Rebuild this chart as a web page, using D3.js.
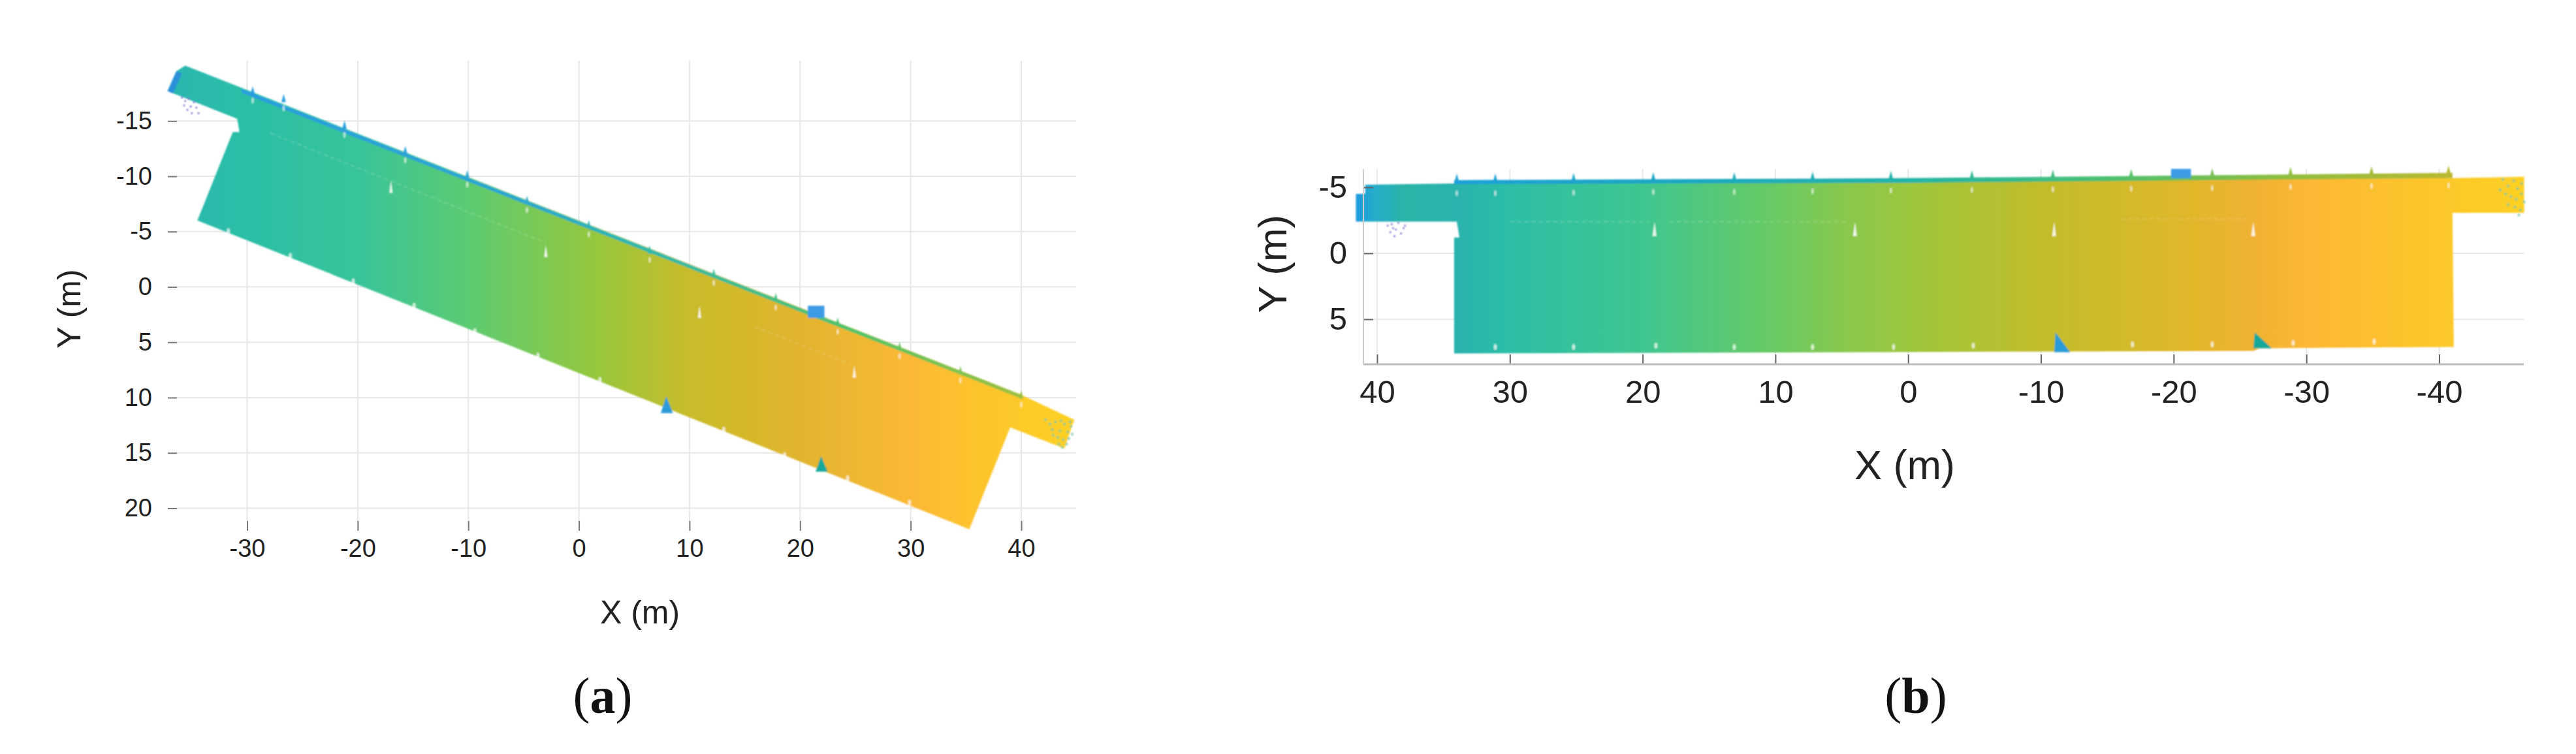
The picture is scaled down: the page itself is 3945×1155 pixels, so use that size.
<!DOCTYPE html>
<meta charset="utf-8">
<head>
<title>Point cloud top views</title>
<script src="https://d3js.org/d3.v7.min.js"></script>
<style>
    html, body { margin: 0; background: #fff; }
    text { font-family: "Liberation Sans", Arial, sans-serif; fill: #222; }
    .caption { font-family: "Liberation Serif", serif; font-size: 78px; fill: #111; }
    .caption tspan.b { font-weight: bold; }
</style>
</head>
<body>
<div id="chart"></div>
<script>
    // ---- data, all in metres ----
    var xTicksA = [-30, -20, -10, 0, 10, 20, 30, 40];
    var yTicksA = [-15, -10, -5, 0, 5, 10, 15, 20];
    var xTicksB = [40, 30, 20, 10, 0, -10, -20, -30, -40];
    var yTicksB = [-5, 0, 5];

    // panel a outline
    var outlineA = [[-35.6,-20],[39.9,9.7],[44.8,12],[43.9,14.6],[39,12.7],[35.3,21.9],[-34.5,-6],[-31.3,-14],[-30.7,-14],[-30.9,-15.2],[-37.2,-17.7],[-36.4,-19.5]];
    var blueEndA = [[-36.4,-19.5],[-35.9,-19.3],[-36.7,-17.5],[-37.2,-17.7]];
    var colourXA = [-37, -30, -20, -10, -3, 1, 10, 20, 30, 35, 44];
    var colourA = ["#29b6b0", "#2abfa6", "#38c49a", "#5ccb72", "#7fc952", "#93c83f", "#c9bc2a", "#e2b42e", "#fbb936", "#fdc22e", "#fdd024"];
    var fringeA = [[-30.5,-17.9],[39.9,9.7],[39.9,10.05],[-30.5,-17.55]];
    var fringeXA = [-30, -5, 5, 25, 40];
    var fringeColourA = ["#2b9de0", "#2ba8d0", "#2cb8b0", "#52c46a", "#9cc040"];
    var spikeXA = [-29.5,-26.7,-21.2,-15.7,-10.1,-4.7,0.9,6.4,12.2,17.8,23.4,29,34.5,40];
    var spikeYA = [-17.6,-16.9,-14.5,-12.2,-10,-7.7,-5.5,-3.2,-1.1,1.1,3.3,5.5,7.7,9.9];
    var lowXA = [-31.7,-26.1,-20.4,-14.9,-9.4,-3.7,1.9,13.1,18.6,24.3,29.9];
    var lowYA = [-5.05,-2.8,-0.5,1.7,4,6.2,8.4,12.9,15.2,17.3,19.5];
    var wedgeXA = [-17, -3, 10.9, 24.9];
    var wedgeYA = [-9.6, -3.8, 1.7, 7.1];
    var triangleA = [
        {pts: [[7.9,9.9],[7.4,11.4],[8.5,11.4]], colour: "#2a9bd8"},
        {pts: [[21.9,15.3],[21.4,16.7],[22.5,16.7]], colour: "#17a89a"}
    ];
    var blobA = {x0: 20.7, x1: 22.2, y0: 1.7, y1: 2.8};
    var seamA = [[[-27.9,-13.9],[-3,-4]], [[15.9,3.6],[24.6,7]]];
    var purpleA = [[-35.9,-17.1],[-35.6,-16.8],[-35.3,-17],[-35.1,-16.3],[-34.8,-16.7],[-35.4,-16],[-34.6,-16.2],[-35,-15.7],[-34.4,-15.7],[-35.7,-16.4]];
    var noiseA = [[42.2,12],[42.8,12.9],[43.1,12.2],[43.5,13],[43.9,12.4],[44.2,13.1],[44.5,12.6],[42.6,12.4],[43.3,13.6],[43.8,13.8],[44.3,13.7],[44.1,14.2],[43.7,14.5],[43.4,14.2],[44.6,13.3],[42.9,13.4],[44.4,12.2],[43.6,12.1]];

    // panel b outline
    var outlineB = [[41.6,-4.5],[40.9,-4.5],[40.9,-5.2],[34.2,-5.3],[-41,-5.7],[-46.4,-5.8],[-46.4,-3.07],[-41,-3.07],[-41.1,7.1],[-26.5,7.2],[-26,7.4],[-11,7.45],[34.2,7.6],[34.2,-1.2],[33.8,-1.2],[34,-2.4],[41.6,-2.4]];
    var colourXB = [41.6, 40.2, 38, 34, 30, 20, 10, 4, 0, -10, -20, -26, -30, -40, -46];
    var colourB = ["#1e9ce0", "#25acc8", "#2ab4a8", "#2ab3ae", "#2dbea6", "#3fc690", "#69ca64", "#8dc84a", "#9cc63e", "#c2bd2a", "#ddb82a", "#f0b232", "#fcb835", "#fdc72a", "#fdd024"];
    var fringeB = [[34.2,-5.55],[0,-5.7],[-41,-6.1],[-41,-5.7],[0,-5.35],[34.2,-5.25]];
    var fringeXB = [34, 15, 0, -15, -28, -41];
    var fringeColourB = ["#1fa0d8", "#1fa8c0", "#22b5a8", "#4cc070", "#8ebe40", "#b8b830"];
    var spikeXB = [34,31.1,25.2,19.2,13.1,7.2,1.3,-4.8,-10.9,-16.8,-22.9,-28.8,-34.9,-40.7];
    var spikeYB = [-5.5,-5.5,-5.55,-5.6,-5.6,-5.65,-5.7,-5.75,-5.8,-5.85,-5.9,-6,-6.05,-6.1];
    var lowXB = [31.1,25.2,19,13.1,7.2,1.1,-4.9,-16.9,-22.9,-29,-35.1];
    var lowYB = [7.1,7.1,7,7.1,7.1,7.1,7,6.9,6.9,6.8,6.7];
    var wedgeXB = [19.1, 4, -11, -26];
    var wedgeYB = [-2.4, -2.4, -2.4, -2.4];
    var triangleB = [
        {pts: [[-11.1,6],[-11,7.5],[-12.2,7.5]], colour: "#2a9bd8"},
        {pts: [[-26.1,6],[-26,7.2],[-27.4,7.2]], colour: "#17a89a"}
    ];
    var blobB = {x0: -21.3, x1: -19.8, y0: -6.4, y1: -5.7};
    var seamB = [[[30,-2.4],[19.5,-2.4]], [[18,-2.4],[4.5,-2.4]], [[-16,-2.6],[-25.5,-2.6]]];
    var purpleB = [[39.2,-2.1],[39,-1.6],[38.9,-2.2],[38.6,-1.8],[38.4,-2.3],[38.2,-1.5],[38,-1.9],[38.7,-1.3],[37.9,-2.1],[38.8,-1.9]];
    var noiseB = [[-44.8,-5.6],[-45.2,-5.1],[-45.6,-5.5],[-45.9,-4.9],[-46.2,-5.3],[-45,-4.5],[-45.4,-4.3],[-45.8,-4.1],[-46.2,-4.5],[-46.4,-3.9],[-45.2,-3.7],[-45.7,-3.5],[-46.1,-3.3],[-46,-2.9],[-44.6,-4.8]];

    // ---- svg ----
    var svg = d3.select("#chart").append("svg")
                .attr("width", 3945)
                .attr("height", 1155);
    var defs = svg.append("defs");
    defs.append("filter").attr("id", "soft").append("feGaussianBlur").attr("stdDeviation", 0.8);

    var xA = d3.scaleLinear().domain([-30, 40]).range([378.5, 1564]);
    var yA = d3.scaleLinear().domain([-15, 20]).range([185.3, 778.5]);
    var xB = d3.scaleLinear().domain([40, -40]).range([2109, 3735.5]);
    var yB = d3.scaleLinear().domain([-5, 5]).range([287, 489]);

    function gradient(id, xs, colours, x) {
        var x0 = x(xs[0]), x1 = x(xs[xs.length - 1]);
        var g = defs.append("linearGradient").attr("id", id)
                    .attr("gradientUnits", "userSpaceOnUse")
                    .attr("x1", x0).attr("x2", x1).attr("y1", 0).attr("y2", 0);
        xs.forEach(function (v, i) {
            g.append("stop").attr("offset", (x(v) - x0) / (x1 - x0)).attr("stop-color", colours[i]);
        });
    }
    gradient("fillA", colourXA, colourA, xA);
    gradient("fringeA", fringeXA, fringeColourA, xA);
    gradient("fillB", colourXB, colourB, xB);
    gradient("fringeB", fringeXB, fringeColourB, xB);

    function drawPanel(o) {
        var x = o.x, y = o.y;
        var line = d3.line().x(function (d) { return x(d[0]); }).y(function (d) { return y(d[1]); });
        var closed = function (pts) { return line(pts) + "Z"; };

        var grid = svg.append("g").attr("stroke", "#e8e8e8").attr("stroke-width", 2);
        grid.selectAll(".gx").data(o.xTicks).enter().append("line")
            .attr("x1", x).attr("x2", x).attr("y1", o.top).attr("y2", o.bottom);
        grid.selectAll(".gy").data(o.yTicks).enter().append("line")
            .attr("y1", y).attr("y2", y).attr("x1", o.left).attr("x2", o.right);

        var marks = svg.append("g").attr("filter", "url(#soft)");

        // point cloud body
        marks.append("path").attr("d", closed(o.outline)).attr("fill", "url(#" + o.fill + ")");
        if (o.blueEnd) marks.append("path").attr("d", closed(o.blueEnd)).attr("fill", "#2a90d8");
        marks.append("path").attr("d", closed(o.fringe)).attr("fill", "url(#" + o.fringeFill + ")");

        // roof spikes along the top edge
        marks.selectAll(".spike").data(o.spikeX).enter().append("path")
            .attr("d", function (d, i) {
                var b = o.spikeY[i];
                return closed([[d - 0.2, b + 0.2], [d, b - 0.55], [d + 0.2, b + 0.2]]);
            })
            .attr("fill", "url(#" + o.fringeFill + ")");

        // small white gaps
        marks.selectAll(".gapTop").data(o.spikeX).enter().append("ellipse")
            .attr("cx", x)
            .attr("cy", function (d, i) { return y(o.spikeY[i] + o.gapOffset); })
            .attr("rx", 1.8).attr("ry", 4.5)
            .attr("fill", "#fff").attr("opacity", 0.6);
        marks.selectAll(".gapLow").data(o.lowX).enter().append("ellipse")
            .attr("cx", x)
            .attr("cy", function (d, i) { return y(o.lowY[i]); })
            .attr("rx", 2.4).attr("ry", 4.5)
            .attr("fill", "#fff").attr("opacity", 0.7);

        // larger wedges
        marks.selectAll(".wedge").data(o.wedgeX).enter().append("path")
            .attr("d", function (d, i) {
                var b = o.wedgeY[i];
                return closed([[d, b], [d + 0.16, b + 1.1], [d - 0.14, b + 1.1]]);
            })
            .attr("fill", "#fff").attr("opacity", 0.85);

        // faint seams
        marks.selectAll(".seam").data(o.seams).enter().append("path")
            .attr("d", line).attr("fill", "none")
            .attr("stroke", "#fff").attr("stroke-opacity", 0.22).attr("stroke-width", 1.5)
            .attr("stroke-dasharray", "7,4");

        marks.selectAll(".tri").data(o.triangles).enter().append("path")
            .attr("d", function (d) { return closed(d.pts); })
            .attr("fill", function (d) { return d.colour; });

        marks.append("rect")
            .attr("x", Math.min(x(o.blob.x0), x(o.blob.x1)))
            .attr("width", Math.abs(x(o.blob.x1) - x(o.blob.x0)))
            .attr("y", y(o.blob.y0))
            .attr("height", y(o.blob.y1) - y(o.blob.y0))
            .attr("fill", "#3d9be6");

        marks.selectAll(".purple").data(o.purple).enter().append("circle")
            .attr("cx", function (d) { return x(d[0]); })
            .attr("cy", function (d) { return y(d[1]); })
            .attr("r", 1.4).attr("fill", "#6a5fd0");
        marks.selectAll(".noise").data(o.noise).enter().append("circle")
            .attr("cx", function (d) { return x(d[0]); })
            .attr("cy", function (d) { return y(d[1]); })
            .attr("r", 2.2).attr("fill", "#6cc4a8").attr("opacity", 0.7);
    }

    drawPanel({
        x: xA, y: yA, xTicks: xTicksA, yTicks: yTicksA,
        top: 93, bottom: 798, left: 271, right: 1648,
        outline: outlineA, blueEnd: blueEndA, fill: "fillA",
        fringe: fringeA, fringeFill: "fringeA",
        spikeX: spikeXA, spikeY: spikeYA, gapOffset: 0.75,
        lowX: lowXA, lowY: lowYA, wedgeX: wedgeXA, wedgeY: wedgeYA,
        seams: seamA, triangles: triangleA, blob: blobA, purple: purpleA, noise: noiseA
    });
    drawPanel({
        x: xB, y: yB, xTicks: xTicksB, yTicks: yTicksB,
        top: 259, bottom: 558, left: 2088, right: 3865,
        outline: outlineB, fill: "fillB",
        fringe: fringeB, fringeFill: "fringeB",
        spikeX: spikeXB, spikeY: spikeYB, gapOffset: 0.95,
        lowX: lowXB, lowY: lowYB, wedgeX: wedgeXB, wedgeY: wedgeYB,
        seams: seamB, triangles: triangleB, blob: blobB, purple: purpleB, noise: noiseB
    });

    // ---- axes ----
    var fmt = function (d) { return String(d); };

    var axisXA = svg.append("g").attr("transform", "translate(0,798)")
        .call(d3.axisBottom(xA).tickValues(xTicksA).tickFormat(fmt).tickSize(15).tickPadding(13));
    var axisYA = svg.append("g").attr("transform", "translate(271,0)")
        .call(d3.axisLeft(yA).tickValues(yTicksA).tickFormat(fmt).tickSize(14).tickPadding(24));
    var axisXB = svg.append("g").attr("transform", "translate(0,558)")
        .call(d3.axisBottom(xB).tickValues(xTicksB).tickFormat(fmt).tickSizeInner(-15).tickSizeOuter(0).tickPadding(24));
    var axisYB = svg.append("g").attr("transform", "translate(2088,0)")
        .call(d3.axisLeft(yB).tickValues(yTicksB).tickFormat(fmt).tickSizeInner(-15).tickSizeOuter(0).tickPadding(25));

    [axisXA, axisYA].forEach(function (a) {
        a.select(".domain").remove();
        a.selectAll("text").attr("font-size", 38).attr("font-family", null).style("fill", "#222");
        a.selectAll("line").attr("stroke", "#777").attr("stroke-width", 2);
    });
    [axisXB, axisYB].forEach(function (a) {
        a.select(".domain").remove();
        a.selectAll("text").attr("font-size", 49).attr("font-family", null).style("fill", "#222");
        a.selectAll("line").attr("stroke", "#666").attr("stroke-width", 2);
    });

    // axis frame of panel b
    svg.append("line").attr("x1", 2088).attr("x2", 3865).attr("y1", 558).attr("y2", 558)
        .attr("stroke", "#bbb").attr("stroke-width", 3);
    svg.append("line").attr("x1", 2088).attr("x2", 2088).attr("y1", 259).attr("y2", 558)
        .attr("stroke", "#ccc").attr("stroke-width", 2);

    // ---- labels ----
    function axisLabel(text, x, y, size, rotated) {
        svg.append("text")
            .attr("transform", "translate(" + x + "," + y + ")" + (rotated ? " rotate(-90)" : ""))
            .attr("text-anchor", "middle")
            .attr("font-size", size)
            .text(text);
    }
    axisLabel("X (m)", 980, 955, 50);
    axisLabel("Y (m)", 123, 473, 50, true);
    axisLabel("X (m)", 2917, 734, 63);
    axisLabel("Y (m)", 1970, 404, 62, true);

    function caption(letter, x) {
        var t = svg.append("text").attr("class", "caption")
            .attr("x", x).attr("y", 1092).attr("text-anchor", "middle");
        t.append("tspan").text("(");
        t.append("tspan").attr("class", "b").text(letter);
        t.append("tspan").text(")");
    }
    caption("a", 923);
    caption("b", 2934);
</script>
</body>
</html>
